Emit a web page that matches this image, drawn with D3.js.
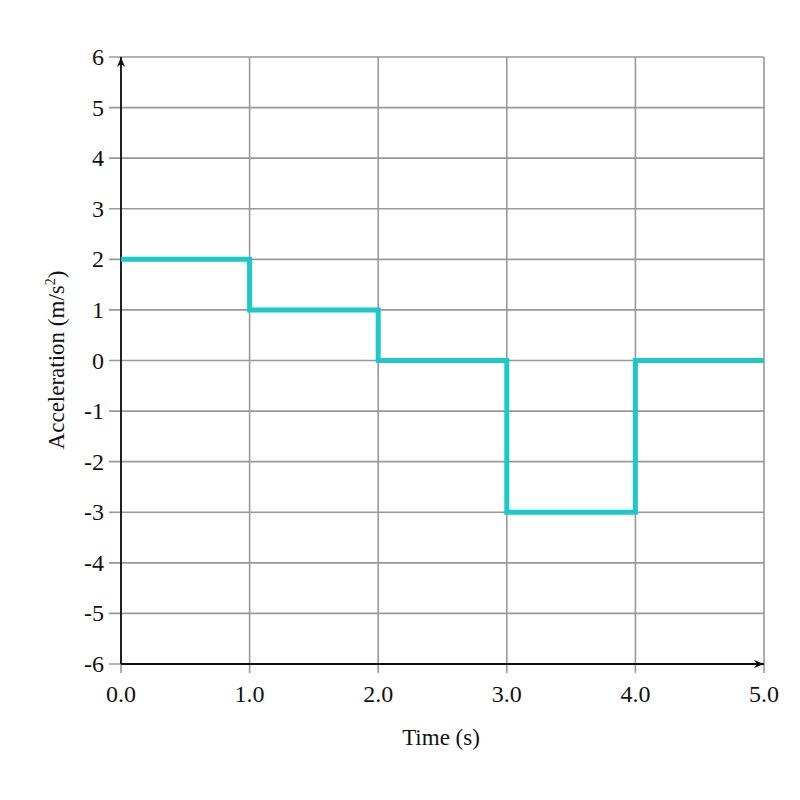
<!DOCTYPE html>
<html lang="en">
<head>
    <meta charset="UTF-8">
    <title>Acceleration vs Time</title>
    <style>
        body { margin: 0; background: #fff; }
        svg text { font-family: "Liberation Serif", "DejaVu Serif", serif; fill: #111; }
    </style>
    <script src="https://d3js.org/d3.v7.min.js"></script>
</head>
<body>
    <svg id="chart" width="800" height="800"></svg>
    <script>
        // step data: acceleration holds each value from t[i] to t[i+1]
        const times = [0, 1, 2, 3, 4, 5];
        const accel = [2, 1, 0, -3, 0, 0];
        const xTicks = [0, 1, 2, 3, 4, 5];
        const yTicks = [-6, -5, -4, -3, -2, -1, 0, 1, 2, 3, 4, 5, 6];

        const svg = d3.select("#chart");
        const x = d3.scaleLinear().domain([0, 5]).range([121, 764]);
        const y = d3.scaleLinear().domain([-6, 6]).range([664, 57]);

        svg.append("defs").append("marker")
            .attr("id", "arrow")
            .attr("viewBox", "0 -5 10 10")
            .attr("refX", 10).attr("refY", 0)
            .attr("markerWidth", 10).attr("markerHeight", 10)
            .attr("markerUnits", "userSpaceOnUse")
            .attr("orient", "auto")
            .append("path").attr("d", "M0,-4L10,0L0,4L3,0Z").attr("fill", "#111");

        // grid
        const grid = svg.append("g").attr("stroke", "#999").attr("stroke-width", 1.6);
        grid.selectAll("line.h").data(yTicks).enter().append("line")
            .attr("x1", 109).attr("x2", x(5))
            .attr("y1", d => y(d)).attr("y2", d => y(d));
        grid.selectAll("line.v").data(xTicks).enter().append("line")
            .attr("x1", d => x(d)).attr("x2", d => x(d))
            .attr("y1", y(6)).attr("y2", 673);

        // tick labels
        svg.append("g").selectAll("text").data(yTicks).enter().append("text")
            .attr("x", 104).attr("y", d => y(d) + 8)
            .attr("text-anchor", "end").attr("font-size", 24)
            .text(d => d);
        svg.append("g").selectAll("text").data(xTicks).enter().append("text")
            .attr("x", d => x(d)).attr("y", 702)
            .attr("text-anchor", "middle").attr("font-size", 24)
            .text(d => d.toFixed(1));

        // axes with arrows
        svg.append("line")
            .attr("x1", x(0)).attr("x2", x(0)).attr("y1", y(-6)).attr("y2", y(6))
            .attr("stroke", "#111").attr("stroke-width", 1.8).attr("marker-end", "url(#arrow)");
        svg.append("line")
            .attr("x1", x(0)).attr("x2", x(5)).attr("y1", y(-6)).attr("y2", y(-6))
            .attr("stroke", "#111").attr("stroke-width", 1.8).attr("marker-end", "url(#arrow)");

        // step line
        const pts = times.map((t, i) => [t, accel[i]]);
        svg.append("path")
            .datum(pts)
            .attr("fill", "none")
            .attr("stroke", "#1cc8c8")
            .attr("stroke-width", 5)
            .attr("d", d3.line().x(d => x(d[0])).y(d => y(d[1])).curve(d3.curveStepAfter));

        // axis titles
        svg.append("text")
            .attr("x", 441).attr("y", 745)
            .attr("text-anchor", "middle").attr("font-size", 23)
            .text("Time (s)");
        const yl = svg.append("text")
            .attr("transform", "translate(64,360) rotate(-90)")
            .attr("text-anchor", "middle").attr("font-size", 23);
        yl.append("tspan").text("Acceleration (m/s");
        yl.append("tspan").attr("font-size", 14).attr("dy", -9).text("2");
        yl.append("tspan").attr("dy", 9).text(")");
    </script>
</body>
</html>
